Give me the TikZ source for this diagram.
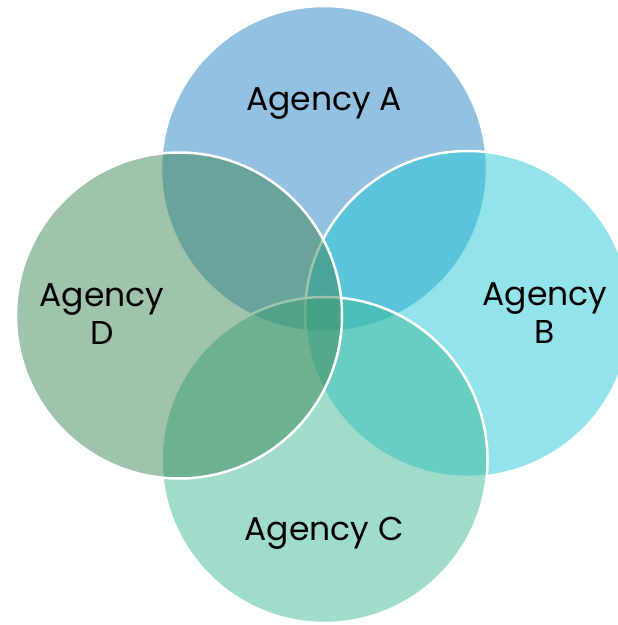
\documentclass[tikz,border=0pt]{standalone}
\usepackage{fontspec}
\setmainfont{Poppins}
\definecolor{cA}{RGB}{37,131,195}
\definecolor{cB}{RGB}{37,201,213}
\definecolor{cC}{RGB}{63,185,153}
\definecolor{cD}{RGB}{63,135,87}
\tikzset{
  venn/.style={circle, minimum size=326pt, inner sep=0pt, draw=white, line width=2.5pt, fill opacity=0.5},
  lbl/.style={font=\fontsize{33}{38}\selectfont, text=black, align=center, inner sep=0pt, anchor=base}
}
\begin{document}
\begin{tikzpicture}[x=1pt,y=-1pt]
\useasboundingbox (0,0) rectangle (618,625);
\clip (0,0) rectangle (618,625);
\node[venn, fill=cA] (A) at (324,169) {};
\node[venn, fill=cB] (B) at (468,314) {};
\node[venn, fill=cC] (C) at (324.5,460) {};
\node[venn, fill=cD] (D) at (179,315.5) {};
\node[lbl] (tA) at (324,110) {Agency A};
\node[lbl] (tB) at (545,343) {Agency\\B};
\node[lbl] (tC) at (324,540) {Agency C};
\node[lbl] (tD) at (102,344) {Agency\\D};
\end{tikzpicture}
\end{document}
